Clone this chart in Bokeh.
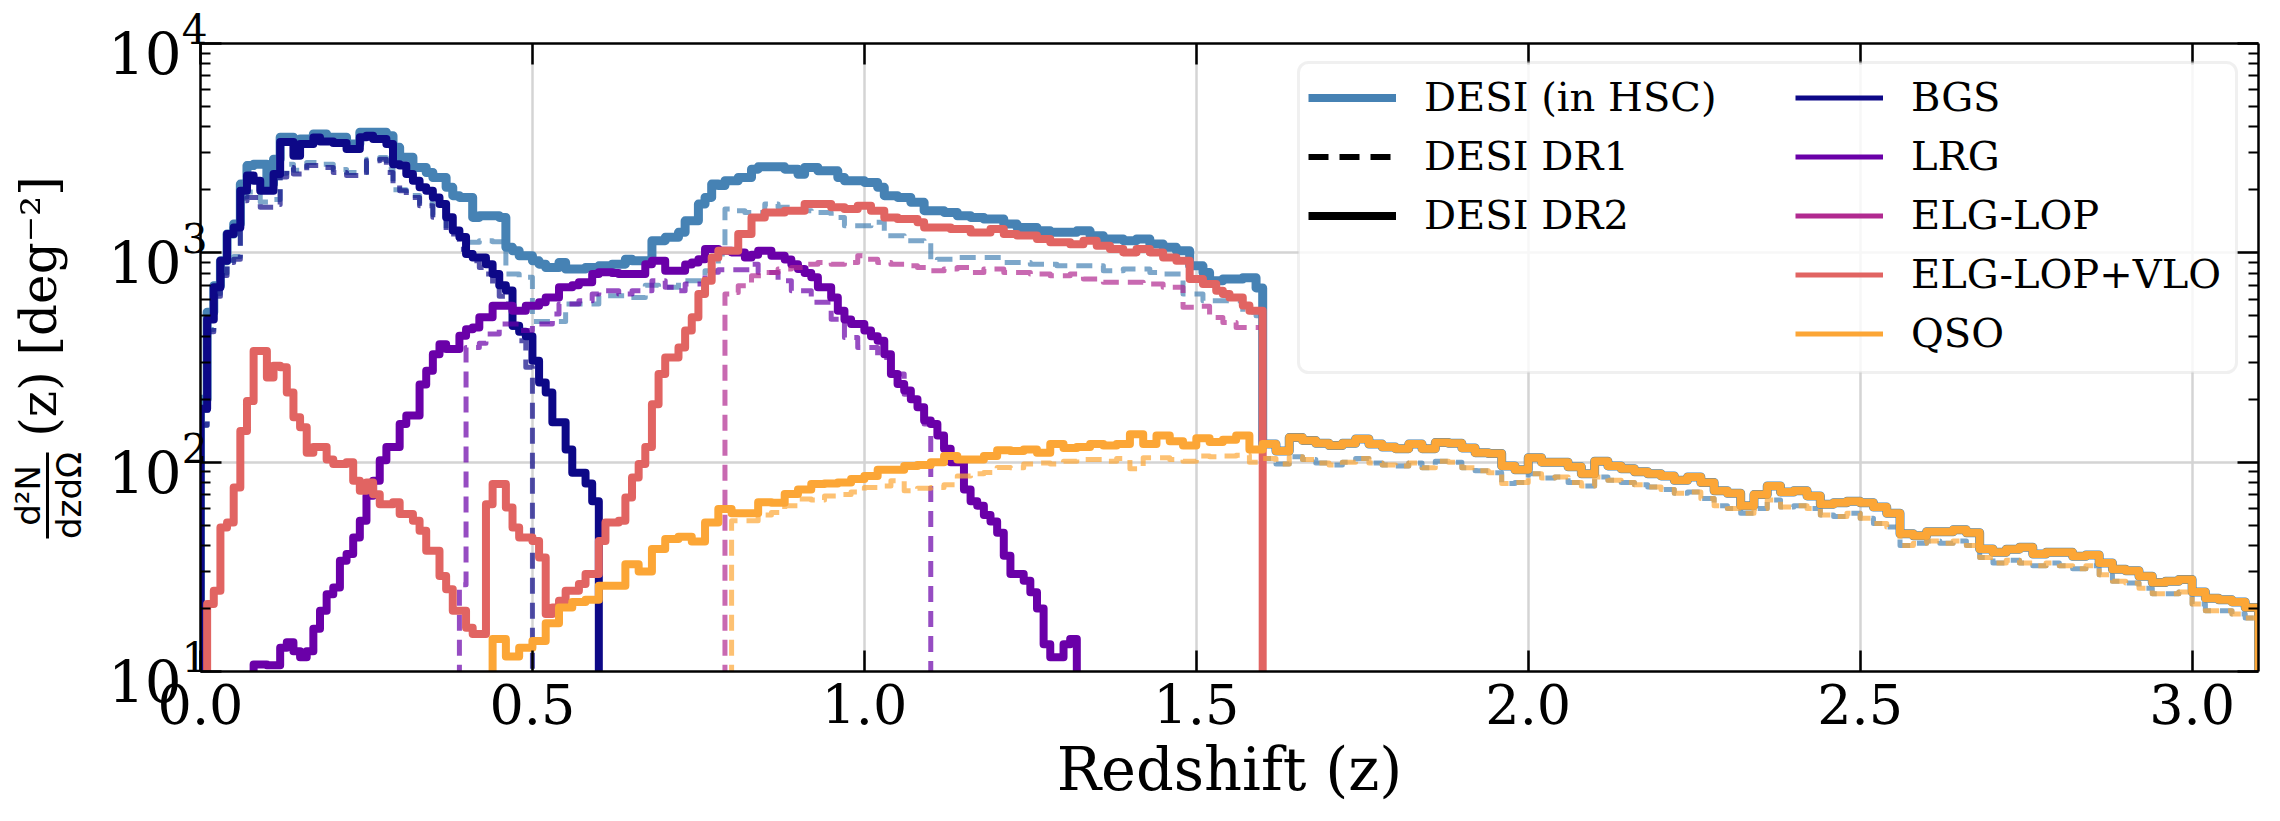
import math
from bokeh.plotting import figure
from bokeh.layouts import row
from bokeh.models import (LinearAxis, LogAxis, FixedTicker, Legend, LegendItem,
                          BoxAnnotation, Range1d, LogTickFormatter, ColumnDataSource,
                          PrintfTickFormatter, CustomJSTickFormatter)
from bokeh.embed import file_html
from bokeh.resources import INLINE

# ---------------------------------------------------------------------------
# Redshift distributions d2N/dz/dOmega [deg^-2], step histograms.
# Each series: first bin edge, bin width, per-bin values.
# ---------------------------------------------------------------------------
FINE = 0.01
COARSE = 0.02

total_dr2_start = 0.00
total_dr2 = [
    200, 520, 697, 916, 1230, 1374, 2130, 2610, 2650, 2650,
    2130, 2800, 3565, 3565, 3435, 3500, 3500, 3700, 3700, 3565,
    3565, 3565, 3310, 3310, 3770, 3770, 3770, 3770, 3630, 3190,
    2860, 2860, 2560, 2560, 2420, 2290, 2290, 2055, 1875, 1840,
    1840, 1476, 1503, 1503, 1503, 1476, 1062, 1023, 968, 968,
    916, 883, 851, 851, 900, 836, 836, 836, 851, 851,
    867, 867, 883, 883, 933, 916, 916, 916, 1143, 1143,
    1186, 1186, 1253, 1422, 1422, 1710, 1840, 2130, 2095, 2210,
    2210, 2290, 2290, 2510, 2575, 2575, 2575, 2575, 2510, 2510,
    2375, 2560, 2560, 2465, 2465, 2465, 2290, 2210, 2210, 2210,
    2170, 2170, 2055, 1875, 1875, 1840, 1840, 1742, 1742, 1590,
    1590, 1590, 1560, 1560, 1503, 1503, 1476, 1476, 1450, 1450,
    1450, 1372, 1372, 1321, 1321, 1321, 1274, 1274, 1253, 1253,
    1253, 1253, 1274, 1274, 1208, 1208, 1164, 1164, 1164, 1143,
    1143, 1164, 1164, 1102, 1102, 1062, 1062, 1023, 1023, 867,
    867, 805, 735, 735, 750, 750, 750, 760, 760, 680,
]

total_dr1_start = 0.00
total_dr1 = [
    150, 430, 640, 800, 920, 960, 1850, 1950, 1950, 1750,
    1750, 1800, 2400, 2650, 2480, 2480, 2700, 2700, 2650, 2650,
    2500, 2500, 2420, 2420, 2420, 2800, 2800, 2850, 2500, 2000,
    2000, 1880, 1880, 1720, 1720, 1520, 1520, 1280, 1280, 1125,
    1125, 1125, 1143, 1143, 1130, 1130, 793, 793, 764, 764,
    470, 470, 470, 470, 470, 569, 569, 569, 569, 569,
    624, 624, 624, 624, 612, 612, 612, 700, 700, 684,
    684, 684, 736, 736, 736, 736, 822, 822, 987, 1620,
    1590, 1590, 1560, 1560, 1560, 1710, 1710, 1650, 1650, 1650,
    1590, 1590, 1560, 1560, 1560, 1477, 1477, 1347, 1347, 1347,
    1347, 1400, 1400, 1208, 1208, 1208, 1143, 1143, 1143, 1122,
    916, 933, 933, 933, 951, 951, 951, 951, 951, 951,
    951, 900, 900, 900, 900, 883, 883, 883, 883, 867,
    867, 867, 867, 867, 867, 867, 820, 820, 820, 836,
    836, 836, 836, 805, 805, 792, 792, 792, 635, 635,
    635, 590, 590, 590, 590, 590, 590, 520, 520, 500,
]

bgs_dr2_start = 0.00
bgs_dr2 = [
    180, 480, 684, 916, 1230, 1320, 1980, 2340, 2210, 1980,
    1980, 2380, 3380, 3380, 2910, 3310, 3310, 3560, 3400, 3400,
    3350, 3350, 3130, 3130, 3570, 3630, 3500, 3500, 3310, 2650,
    2610, 2380, 2210, 2060, 1980, 1840, 1710, 1480, 1280, 1190,
    987, 950, 950, 883, 792, 700, 660, 449, 420, 400,
    305, 240, 215, 155, 155, 115, 89, 89, 79, 65,
]

bgs_dr1_start = 0.00
bgs_dr1 = [
    150, 420, 620, 780, 900, 933, 1775, 1840, 1840, 1650,
    1650, 1700, 2300, 2560, 2380, 2380, 2610, 2610, 2560, 2560,
    2420, 2420, 2340, 2340, 2340, 2750, 2750, 2800, 2420, 2100,
    1980, 1840, 1840, 1680, 1680, 1480, 1480, 1230, 1230, 1040,
    1000, 916, 850, 792, 684, 620, 569, 440, 380, 284,
]

lrg_dr2_start = 0.08
lrg_dr2 = [
    10.8, 10.8, 10.7, 10.7, 13.0, 13.8, 12.5, 11.7, 12.5, 16,
    19.5, 23.4, 25.2, 33.8, 36.4, 43.7, 52.5, 69.1, 81.5, 102,
    118, 118, 152, 167, 167, 235, 273, 328, 366, 347,
    347, 402, 432, 440, 492, 492, 559, 559, 559, 529,
    529, 559, 559, 580, 612, 612, 684, 684, 700, 723,
    723, 792, 807, 807, 800, 792, 792, 792, 792, 883,
    916, 916, 822, 822, 822, 880, 900, 933, 1042, 1042,
    1023, 1023, 1005, 1005, 951, 980, 1023, 1023, 968, 968,
    930, 883, 836, 800, 764, 684, 684, 612, 529, 480,
    457, 457, 425, 400, 380, 328, 264, 236, 220, 200,
    183, 158, 152, 134, 116, 100, 100, 74, 65, 62,
    56, 52, 46, 35.7, 29.2, 29.2, 27.1, 23.9, 20, 13.5,
    11.7, 11.7, 13.5, 14.3,
]

lrg_dr1_start = 0.39
lrg_dr1 = [
    26, 353, 353, 370, 409, 409, 457, 457, 457, 425,
    425, 457, 457, 457, 510, 569, 569, 569, 590, 590,
    635, 659, 659, 659, 635, 635, 659, 659, 659, 736,
    736, 684, 684, 659, 710, 710, 710, 807, 807, 830,
    830, 830, 830, 830, 883, 805, 805, 805, 735, 735,
    659, 659, 659, 580, 580, 580, 482, 482, 394, 394,
    353, 353, 353, 316, 316, 264, 264, 211, 200, 183, 152,
]

elg_vlo_dr2_start = 0.00
elg_vlo_dr2 = [
    5, 21, 24.3, 48.8, 51.5, 75.7, 141, 196, 340, 340,
    254, 289, 284, 215, 164, 147, 111, 118, 118, 103,
    98, 98, 100, 81.5, 73, 80, 70.3, 63, 63, 64.3,
    56.5, 56.5, 52.5, 47, 37.7, 37.7, 28.6, 24.7, 19.5, 19.5,
    16.2, 15.1, 15.1, 63, 78.6, 78.6, 60.8, 48.8, 43.7, 43.7,
    42, 35, 18.8, 20.2, 21.8, 24.3, 24.3, 26.2, 29.2, 29.2,
    42, 51.5, 51.5, 52.5, 67.8, 84.5, 98, 118, 189, 264,
    316, 316, 353, 425, 492, 635, 736, 951, 1023, 1023,
    1023, 1230, 1230, 1477, 1477, 1560, 1560, 1560, 1590, 1590,
    1590, 1710, 1710, 1710, 1710, 1650, 1650, 1620, 1620, 1680,
    1680, 1590, 1590, 1477, 1477, 1450, 1450, 1450, 1400, 1320,
    1320, 1320, 1320, 1300, 1300, 1300, 1250, 1250, 1250, 1300,
    1300, 1230, 1230, 1210, 1210, 1210, 1165, 1165, 1122, 1122,
    1122, 1100, 1100, 1143, 1143, 1082, 1082, 1042, 1042, 1005,
    1005, 1042, 1042, 1005, 1005, 951, 951, 916, 916, 750,
    750, 710, 710, 659, 635, 612, 612, 560, 529, 529,
]

elg_lop_dr1_start = 0.79
elg_lop_dr1 = [
    635, 647, 697, 697, 777, 777, 805, 805, 836, 836,
    851, 851, 883, 883, 900, 900, 883, 883, 900, 900,
    968, 933, 933, 900, 900, 883, 883, 867, 867, 851,
    851, 820, 820, 836, 836, 851, 851, 805, 805, 836,
    836, 836, 805, 805, 805, 805, 792, 792, 792, 777,
    777, 777, 792, 792, 750, 750, 750, 723, 723, 723,
    723, 723, 723, 710, 710, 710, 684, 684, 684, 549,
    549, 555, 555, 491, 491, 465, 465, 440, 440, 440, 440,
]

qso_dr2_start = 0.40
qso_dr2 = [
    9.5, 8, 14.3, 11.8, 13.0, 14, 17, 20.2, 21.5, 22,
    25.7, 25.7, 32.5, 30, 38.5, 43, 44, 41.8, 51.5, 59.7,
    57, 57, 64.3, 64, 70.5, 74, 78.6, 79, 80, 83,
    86, 92, 92, 96, 97, 100, 107, 103, 103, 107,
    114, 113, 115, 111, 122, 117, 118, 122, 120, 122,
    136, 122, 134, 126, 120, 130, 125, 128, 134, 115,
    122, 113, 131, 127, 123, 120, 123, 129, 122, 118,
    116, 122, 116, 124, 123, 117, 111, 110, 96, 92,
    105, 100, 100, 95, 88, 101, 96, 93, 90, 88,
    86, 82, 85, 80, 73, 71, 62, 70, 77, 72,
    73, 69, 63, 64, 65, 64, 61, 57, 45.5, 44.5,
    46.5, 46.5, 47.5, 46, 38.5, 37.1, 38.4, 39.2, 36.4, 37.1,
    37.1, 35.5, 36, 33, 30.8, 30.3, 28.5, 26.6, 27, 27.5,
    24, 22.4, 22, 21.5, 20.2,
]

qso_dr1_start = 0.80
qso_dr1 = [
    52.5, 52.5, 56, 57.5, 62, 66.7, 66, 69, 70, 72,
    75.7, 77, 81.5, 73, 75, 75.7, 78, 86, 88, 89.3,
    94.4, 94, 98, 99, 98, 101, 103, 103, 101, 104,
    93, 105, 105, 103, 101, 107, 106, 107, 108, 100,
    104, 98, 106, 103, 99, 97, 100, 104, 99, 97,
    96, 99, 94, 101, 100, 94, 91, 89, 79, 80,
    88, 84, 85, 80, 77, 85, 82, 80, 78, 76,
    74, 71, 72, 67, 62, 60, 57, 60, 66, 61,
    62, 60, 56, 55, 57, 54, 51, 49, 40, 41,
    42, 41, 42, 40, 35, 33, 34, 33, 32, 33,
    32, 31, 32, 29, 27, 26.5, 25, 23.5, 23.5, 24,
    21, 19.5, 19.5, 18.8, 18,
]

# Above z = 1.6 only quasars contribute, so the totals continue with the QSO bins
QSO_ONLY_FROM = 1.60

x_ticks = [0.0, 0.5, 1.0, 1.5, 2.0, 2.5, 3.0]
y_ticks = [1e1, 1e2, 1e3, 1e4]

COL_TOTAL = "#4682b4"
COL_BGS = "#0d0887"
COL_LRG = "#6a00a8"
COL_ELG = "#b12a90"
COL_ELG_VLO = "#e16462"
COL_QSO = "#fca636"

SERIF = "DejaVu Serif"
SANS = "DejaVu Sans"


def edges_for(start, width, n):
    return [round(start + width * i, 6) for i in range(n + 1)]


def step_path(edges, values, floor=1.0):
    """Closed-bottom step path: rise at first edge, drop after last bin."""
    xs = [edges[0], edges[0]] + list(edges[1:])
    ys = [floor] + list(values) + [floor]
    return xs, ys


def with_qso_tail(start, values, qso_start, qso_values):
    e1 = edges_for(start, FINE, len(values))
    e2 = edges_for(qso_start, COARSE, len(qso_values))
    k = int(round((QSO_ONLY_FROM - qso_start) / COARSE))
    edges = e1[:-1] + e2[k:]
    vals = list(values) + list(qso_values[k:])
    return edges, vals


# ---------------------------------------------------------------------------
# Page geometry (pixels from the top-left of the page)
W, H = 2280, 821
LAB_W = 100                            # strip holding the rotated y label
FL, FR, FT, FB = 200, 2258, 43, 671   # plotting frame
X0, X1 = 0.0, 3.1
Y0, Y1 = 1e1, 1e4

# ---- y-axis title strip: its frame shares the main frame's top and bottom,
# and its data units are page pixels (y measured upward from the page bottom)
lab = figure(width=LAB_W, height=H,
             x_range=Range1d(0, LAB_W), y_range=Range1d(H - FB, H - FT),
             output_backend="svg", toolbar_location=None,
             min_border_left=0, min_border_right=0,
             min_border_top=FT, min_border_bottom=H - FB,
             x_axis_location=None, y_axis_location=None,
             background_fill_color="white", border_fill_color="white")
lab.grid.visible = False
lab.outline_line_color = None

# rotated pieces: "(z) [deg^-2]" preceded by the fraction d2N / dz dOmega;
# anchors sit on the text baselines, which face the plot once rotated
title_src = ColumnDataSource(data=dict(
    x=[38, 27, 68],
    y=[H - 306, H - 495, H - 495],
    text=["(z) [deg\u207b\u00b2]", "d\u00b2N", "dzd\u03a9"],
    font=[SERIF, SANS, SANS],
    size=["50px", "34px", "34px"],
))
lab.text(x="x", y="y", text="text", source=title_src, angle=math.pi / 2,
         text_font="font", text_font_size="size", text_color="black",
         text_align="center", text_baseline="alphabetic")
lab.segment(x0=[47], y0=[H - 452], x1=[47], y1=[H - 538],
            line_color="black", line_width=3)

# ---- main plot ---------------------------------------------------------------
p = figure(width=W - LAB_W, height=H, x_range=Range1d(X0, X1), y_range=Range1d(Y0, Y1),
           y_axis_type="log", output_backend="svg", toolbar_location=None,
           min_border_left=FL - LAB_W, min_border_right=W - FR,
           min_border_top=FT, min_border_bottom=H - FB,
           background_fill_color="white", border_fill_color="white")
p.outline_line_color = None


def px_to_x(px):
    return X0 + (X1 - X0) * (px - FL) / (FR - FL)


def py_to_y(py):
    lo, hi = math.log10(Y0), math.log10(Y1)
    return 10 ** (lo + (hi - lo) * (FB - py) / (FB - FT))


SOLID_W = 8
TOTAL_W = 9
DASH_W = 5
DASH = "16 9"
DR1_ALPHA = 0.7


def draw(edges, values, color, width, dashed=False, alpha=1.0):
    xs, ys = step_path(edges, values)
    kw = dict(line_color=color, line_width=width, line_alpha=alpha,
              line_join="round", mode="after")
    if dashed:
        kw["line_dash"] = DASH
    return p.step(xs, ys, **kw)


e, v = with_qso_tail(total_dr2_start, total_dr2, qso_dr2_start, qso_dr2)
draw(e, v, COL_TOTAL, TOTAL_W)
e, v = with_qso_tail(total_dr1_start, total_dr1, qso_dr1_start, qso_dr1)
draw(e, v, COL_TOTAL, DASH_W, dashed=True, alpha=DR1_ALPHA)

draw(edges_for(bgs_dr2_start, FINE, len(bgs_dr2)), bgs_dr2, COL_BGS, SOLID_W)
draw(edges_for(bgs_dr1_start, FINE, len(bgs_dr1)), bgs_dr1, COL_BGS, DASH_W, True, DR1_ALPHA)
draw(edges_for(lrg_dr2_start, FINE, len(lrg_dr2)), lrg_dr2, COL_LRG, SOLID_W)
draw(edges_for(lrg_dr1_start, FINE, len(lrg_dr1)), lrg_dr1, COL_LRG, DASH_W, True, DR1_ALPHA)
draw(edges_for(elg_lop_dr1_start, FINE, len(elg_lop_dr1)), elg_lop_dr1, COL_ELG, DASH_W, True, DR1_ALPHA)
draw(edges_for(elg_vlo_dr2_start, FINE, len(elg_vlo_dr2)), elg_vlo_dr2, COL_ELG_VLO, SOLID_W)
draw(edges_for(qso_dr2_start, COARSE, len(qso_dr2)), qso_dr2, COL_QSO, SOLID_W)
draw(edges_for(qso_dr1_start, COARSE, len(qso_dr1)), qso_dr1, COL_QSO, DASH_W, True, DR1_ALPHA)

# ---------------------------------------------------------------------------
# Axes: ticks pointing inward on all four sides
x_ticker = FixedTicker(ticks=x_ticks, minor_ticks=[])
y_minor = [m * 10 ** d for d in range(1, 4) for m in range(2, 10)]
y_ticker = FixedTicker(ticks=y_ticks, minor_ticks=y_minor)
blank = CustomJSTickFormatter(code="return ''")


def style_axis(ax, ticker, size="48px"):
    ax.ticker = ticker
    ax.axis_line_color = "black"
    ax.axis_line_width = 2.5
    ax.major_tick_in = 21
    ax.major_tick_out = 0
    ax.minor_tick_in = 10
    ax.minor_tick_out = 0
    ax.major_tick_line_color = "black"
    ax.minor_tick_line_color = "black"
    ax.major_tick_line_width = 2.5
    ax.minor_tick_line_width = 2
    ax.major_label_text_font = SERIF
    ax.major_label_text_color = "black"
    ax.major_label_text_font_size = size


xb = p.xaxis[0]
style_axis(xb, x_ticker, size="54px")
xb.formatter = PrintfTickFormatter(format="%.1f")
xb.major_label_standoff = 12
xb.axis_label = "Redshift (z)"
xb.axis_label_text_font = SERIF
xb.axis_label_text_font_size = "59px"
xb.axis_label_text_font_style = "normal"
xb.axis_label_text_color = "black"
xb.axis_label_standoff = 8

yl = p.yaxis[0]
style_axis(yl, y_ticker, size="58px")
yl.formatter = LogTickFormatter()
yl.major_label_standoff = -7

xt = LinearAxis(formatter=blank)
style_axis(xt, x_ticker, size="10px")
xt.major_label_standoff = 0
p.add_layout(xt, "above")
yr = LogAxis(formatter=blank)
style_axis(yr, y_ticker, size="10px")
yr.major_label_standoff = 0
p.add_layout(yr, "right")

p.xgrid[0].ticker = x_ticker
p.ygrid[0].ticker = y_ticker
for g in (p.xgrid[0], p.ygrid[0]):
    g.grid_line_color = "#d4d4d4"
    g.grid_line_width = 2.5
    g.minor_grid_line_color = None

# ---------------------------------------------------------------------------
# Legend: rounded frame with two columns of entries
p.add_layout(BoxAnnotation(left=px_to_x(1298), right=px_to_x(2236),
                           top=py_to_y(62), bottom=py_to_y(372),
                           fill_color="white", fill_alpha=0.8,
                           line_color="#cccccc", line_width=3, border_radius=10))

NAN = float("nan")


def proxy(color, width, dash="solid"):
    return p.line(x=[NAN], y=[NAN], line_color=color, line_width=width, line_dash=dash)


items_left = [
    LegendItem(label="DESI (in HSC)", renderers=[proxy(COL_TOTAL, 8)]),
    LegendItem(label="DESI DR1", renderers=[proxy("black", 6, "20 11")]),
    LegendItem(label="DESI DR2", renderers=[proxy("black", 8)]),
]
items_right = [
    LegendItem(label="BGS", renderers=[proxy(COL_BGS, 5)]),
    LegendItem(label="LRG", renderers=[proxy(COL_LRG, 5)]),
    LegendItem(label="ELG-LOP", renderers=[proxy(COL_ELG, 5)]),
    LegendItem(label="ELG-LOP+VLO", renderers=[proxy(COL_ELG_VLO, 5)]),
    LegendItem(label="QSO", renderers=[proxy(COL_QSO, 5)]),
]

ROW_H = 47
ROW_GAP = 12
TOP_ROW = 97 - ROW_H / 2


def make_legend(items, left_px):
    n = len(items)
    h = n * ROW_H + (n - 1) * ROW_GAP
    bottom_px = TOP_ROW + h
    return Legend(items=items, location=(left_px - FL, FB - bottom_px),
                  orientation="vertical", label_text_font=SERIF,
                  label_text_font_size="40px", label_text_color="black",
                  glyph_width=88, glyph_height=ROW_H, label_height=ROW_H,
                  label_standoff=28, spacing=ROW_GAP, padding=0, margin=0,
                  border_line_color=None, background_fill_alpha=0)


p.add_layout(make_legend(items_left, 1308))
p.add_layout(make_legend(items_right, 1795))

open("out.html", "w").write(file_html(row(lab, p), INLINE))
